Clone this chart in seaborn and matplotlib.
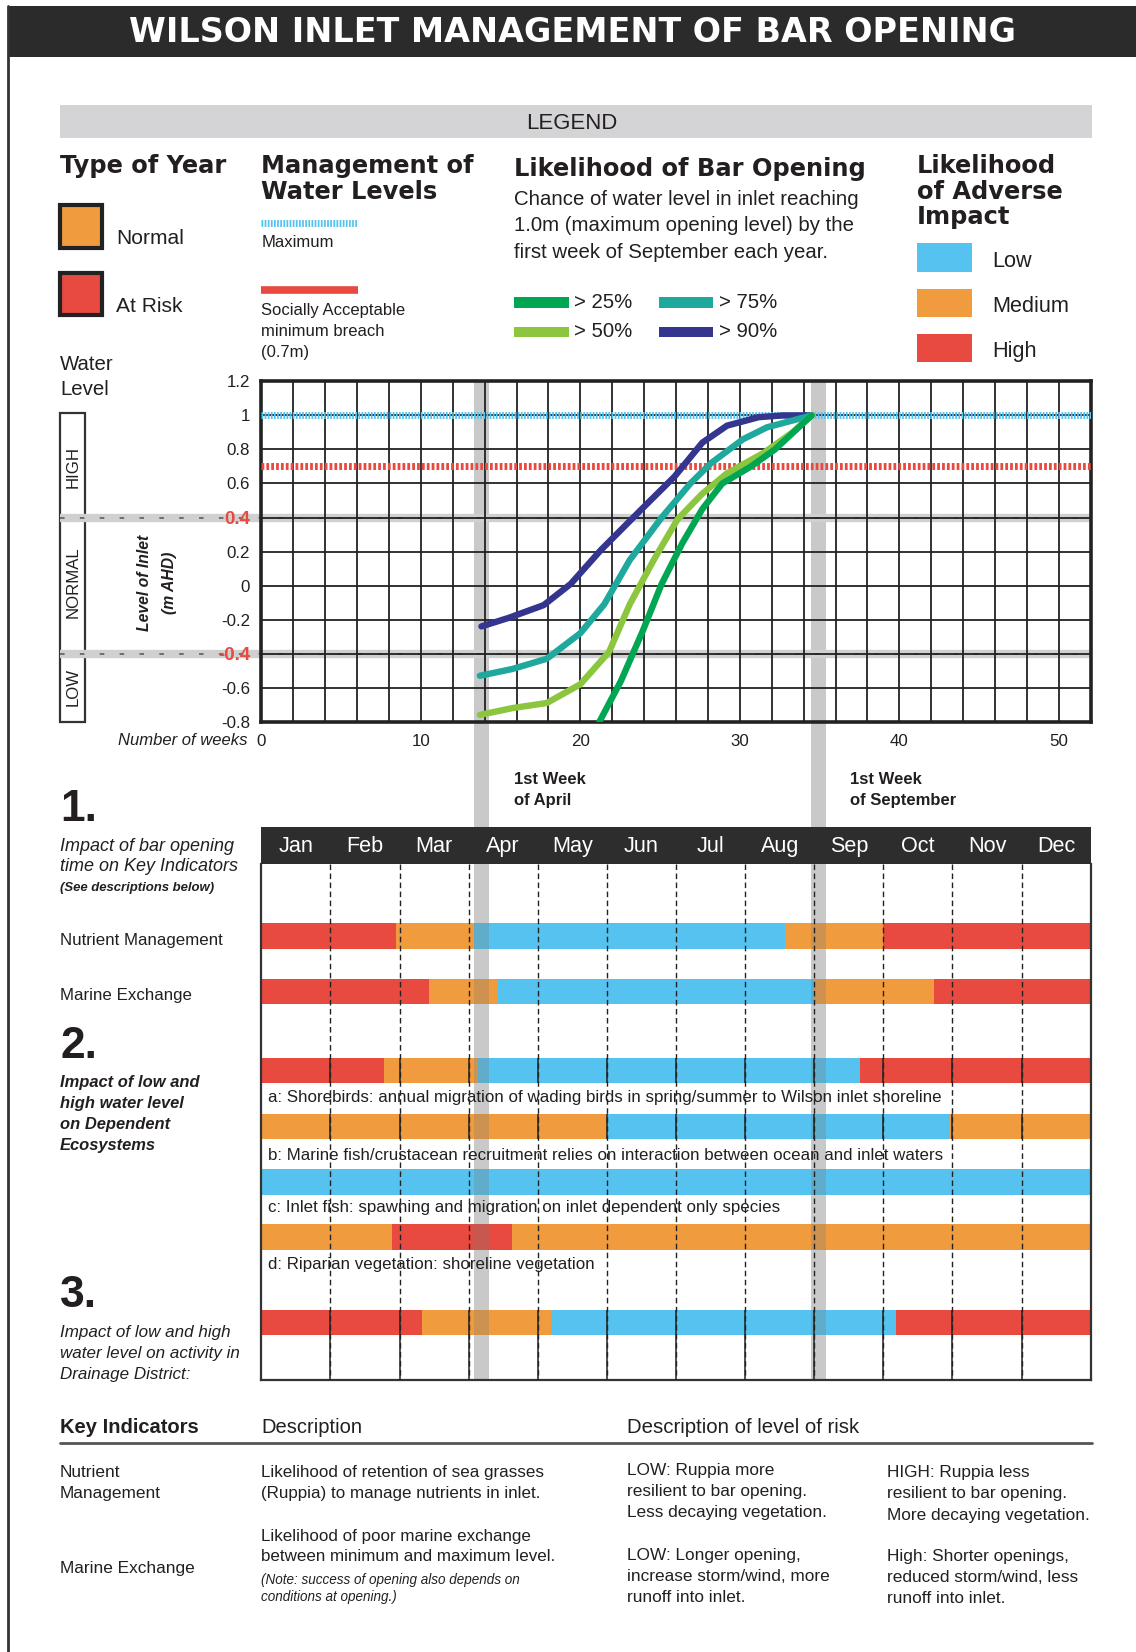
import numpy as np
import pandas as pd
import matplotlib
matplotlib.use("Agg")
import matplotlib.pyplot as plt
from matplotlib.patches import Rectangle
from matplotlib.lines import Line2D
from matplotlib import font_manager as fm
import seaborn as sns

# ------------------------------------------------------------------
# Water level curves: week of year vs. inlet level (m AHD)
# ------------------------------------------------------------------
weeks_25 = [21.2, 22.55, 23.9, 25.1, 26.4, 27.65, 28.9, 30.7, 32.2, 34.5]
level_25 = [-0.80, -0.56, -0.27, 0.01, 0.25, 0.45, 0.60, 0.70, 0.80, 1.00]

weeks_50 = [13.7, 15.75, 17.9, 20.0, 21.8, 23.1, 24.6, 26.1, 27.65, 29.2, 31.5, 33.3, 34.5]
level_50 = [-0.76, -0.72, -0.69, -0.58, -0.39, -0.11, 0.15, 0.39, 0.54, 0.66, 0.78, 0.90, 1.00]

weeks_75 = [13.7, 15.75, 17.9, 20.0, 21.5, 23.1, 25.1, 26.9, 28.2, 30.2, 31.7, 34.5]
level_75 = [-0.53, -0.49, -0.43, -0.28, -0.11, 0.15, 0.40, 0.60, 0.72, 0.86, 0.93, 1.00]

weeks_90 = [13.8, 15.5, 17.7, 19.4, 21.3, 23.8, 25.9, 27.65, 29.2, 31.2, 32.7, 34.5]
level_90 = [-0.24, -0.19, -0.115, 0.01, 0.21, 0.445, 0.64, 0.84, 0.94, 0.99, 1.00, 1.00]

chance_labels = ['> 25%', '> 50%', '> 75%', '> 90%']

max_level = 1.0          # maximum opening level
breach_level = 0.7       # socially acceptable minimum breach
zone_levels = [0.4, -0.4]

april_week = 13.8
september_week = 34.95

y_ticks = [1.2, 1.0, 0.8, 0.6, 0.4, 0.2, 0.0, -0.2, -0.4, -0.6, -0.8]
y_tick_labels = ['1.2', '1', '0.8', '0.6', '0.4', '0.2', '0', '-0.2', '-0.4', '-0.6', '-0.8']
x_ticks = [0, 10, 20, 30, 40, 50]

months = ['Jan', 'Feb', 'Mar', 'Apr', 'May', 'Jun',
          'Jul', 'Aug', 'Sep', 'Oct', 'Nov', 'Dec']

# ------------------------------------------------------------------
# Impact rows: month boundaries and impact level of each span
# ------------------------------------------------------------------
nutrient_edges = [0, 1.95, 3.08, 7.57, 9.0, 12]
nutrient_risk = ['High', 'Medium', 'Low', 'Medium', 'High']

marine_edges = [0, 2.43, 3.42, 7.98, 9.74, 12]
marine_risk = ['High', 'Medium', 'Low', 'Medium', 'High']

shorebird_edges = [0, 1.77, 3.14, 8.66, 12]
shorebird_risk = ['High', 'Medium', 'Low', 'High']

marine_fish_edges = [0, 5.0, 9.96, 12]
marine_fish_risk = ['Medium', 'Low', 'Medium']

inlet_fish_edges = [0, 12]
inlet_fish_risk = ['Low']

riparian_edges = [0, 1.89, 3.63, 12]
riparian_risk = ['Medium', 'High', 'Medium']

drainage_edges = [0, 2.32, 4.19, 9.19, 12]
drainage_risk = ['High', 'Medium', 'Low', 'High']

# ------------------------------------------------------------------
# Styling
# ------------------------------------------------------------------
sns.set_style('white')
names = {f.name for f in fm.fontManager.ttflist}
NARROW = 'Liberation Sans Narrow' if 'Liberation Sans Narrow' in names else 'Liberation Sans'
NS = 1.0 if NARROW == 'Liberation Sans Narrow' else 0.84
WIDE = 'Liberation Sans'
HEAVY = 'DejaVu Sans'
plt.rcParams['font.family'] = [NARROW, 'DejaVu Sans']
TXT = '#231f20'

RED = '#e84a3f'
ORANGE = '#f19b3f'
BLUE = '#55c2ef'
risk_colors = {'Low': BLUE, 'Medium': ORANGE, 'High': RED}
line_colors = {'> 25%': '#00a651', '> 50%': '#8cc63f',
               '> 75%': '#1fa99d', '> 90%': '#34358f'}
BAND = '#c9c9c9'

W, H = 1078.0, 1568.0


def fx(x):
    return x / W


def fy(y):
    return 1 - y / H


def box(l, t, r, b):
    return [fx(l), fy(b), (r - l) / W, (b - t) / H]


fig = plt.figure(figsize=(11.36, 16.52), dpi=100)
fig.patch.set_facecolor('white')


def text(x, y, s, size, family=None, **kw):
    kw.setdefault('va', 'center')
    kw.setdefault('color', TXT)
    fam = family or NARROW
    sz = size * NS if fam == NARROW else size
    return fig.text(fx(x), fy(y), s, fontsize=sz, family=fam, **kw)


def text_lines(x, y0, step, lines, size, **kw):
    for i, s in enumerate(lines):
        text(x, y0 + i * step, s, size, **kw)


def rect(l, t, r, b, **kw):
    fig.add_artist(Rectangle((fx(l), fy(b)), (r - l) / W, (b - t) / H,
                             transform=fig.transFigure, **kw))


def hline(x0, x1, y, **kw):
    fig.add_artist(Line2D([fx(x0), fx(x1)], [fy(y), fy(y)],
                          transform=fig.transFigure, **kw))


# ------------------------------------------------------------------
# Title bar and frame
# ------------------------------------------------------------------
rect(8, 6, 1078, 54, facecolor='#2b2b2b', edgecolor='none')
text(543, 31, 'WILSON INLET MANAGEMENT OF BAR OPENING', 24, family=HEAVY,
     weight='bold', color='white', ha='center')
fig.add_artist(Line2D([fx(8), fx(8)], [fy(6), fy(1568)],
                      transform=fig.transFigure, color='#333333', lw=2))

# ------------------------------------------------------------------
# Legend block
# ------------------------------------------------------------------
rect(57, 100, 1036, 131, facecolor='#d4d4d6', edgecolor='none')
text(543, 117, 'LEGEND', 19, family=WIDE, ha='center')

text(57, 158, 'Type of Year', 17.4, family=HEAVY, weight='bold')
rect(57, 195, 97, 235, facecolor=ORANGE, edgecolor='#222222', lw=3)
text(110, 226, 'Normal', 18)
rect(57, 259, 97, 299, facecolor=RED, edgecolor='#222222', lw=3)
text(110, 291, 'At Risk', 18)

text_lines(248, 158, 24, ['Management of', 'Water Levels'], 17.4, family=HEAVY, weight='bold')
hline(248, 340, 212, color=BLUE, lw=5, ls=(0, (0.25, 0.2)))
text(248, 230, 'Maximum', 14.3)
hline(248, 340, 275, color=RED, lw=5.5, solid_capstyle='butt')
text_lines(248, 295, 20, ['Socially Acceptable', 'minimum breach', '(0.7m)'], 14.3)

text(488, 160, 'Likelihood of Bar Opening', 17.4, family=HEAVY, weight='bold')
text_lines(488, 189, 25.5, ['Chance of water level in inlet reaching',
                            '1.0m (maximum opening level) by the',
                            'first week of September each year.'], 17.5)
swatches = [('> 25%', 488, 287), ('> 75%', 625, 287),
            ('> 50%', 488, 315), ('> 90%', 625, 315)]
for lab, sx, sy in swatches:
    rect(sx, sy - 5, sx + 52, sy + 5, facecolor=line_colors[lab], edgecolor='none')
    text(sx + 57, sy, lab, 17.5)

text_lines(870, 158, 24, ['Likelihood', 'of Adverse', 'Impact'], 17.4, family=HEAVY, weight='bold')
for lab, ty in [('Low', 248), ('Medium', 291), ('High', 334)]:
    rect(870, ty - 17, 922, ty + 10, facecolor=risk_colors[lab], edgecolor='none')
    text(942, ty, lab, 18.5)

# ------------------------------------------------------------------
# Vertical marker bands (1st week of April / September)
# ------------------------------------------------------------------
band_ax = fig.add_axes(box(248, 362, 1035, 1310))
band_ax.set_zorder(0)
band_ax.set_xlim(0, 52)
band_ax.axis('off')
for wk in (april_week, september_week):
    band_ax.axvspan(wk - 0.48, wk + 0.48, color=BAND, lw=0)

# ------------------------------------------------------------------
# Water level chart
# ------------------------------------------------------------------
df = pd.concat([
    pd.DataFrame({'week': weeks_25, 'level': level_25, 'chance': '> 25%'}),
    pd.DataFrame({'week': weeks_50, 'level': level_50, 'chance': '> 50%'}),
    pd.DataFrame({'week': weeks_75, 'level': level_75, 'chance': '> 75%'}),
    pd.DataFrame({'week': weeks_90, 'level': level_90, 'chance': '> 90%'}),
], ignore_index=True)

ax = fig.add_axes(box(248, 362, 1035, 685))
ax.set_zorder(2)
ax.set_facecolor('none')
sns.lineplot(data=df, x='week', y='level', hue='chance',
             hue_order=['> 90%', '> 75%', '> 50%', '> 25%'],
             palette=line_colors, estimator=None, sort=False,
             lw=4.6, legend=False, ax=ax, zorder=5,
             solid_capstyle='round')
ax.set_xlim(0, 52)
ax.set_ylim(-0.8, 1.2)
ax.set_xlabel('')
ax.set_ylabel('')
ax.set_xticks(x_ticks)
ax.set_xticks(np.arange(0, 53, 2), minor=True)
ax.set_yticks(y_ticks)
ax.set_yticklabels(y_tick_labels)
ax.set_axisbelow(False)
ax.grid(which='both', axis='x', color='#222222', lw=1.3)
ax.grid(which='major', axis='y', color='#222222', lw=1.3)
ax.tick_params(which='both', length=0)
ax.tick_params(axis='y', pad=8, labelsize=14.5 * NS, labelcolor=TXT)
ax.tick_params(axis='x', pad=9, labelsize=14.5 * NS, labelcolor=TXT)
for lbl in ax.get_yticklabels():
    if lbl.get_text() in ('0.4', '-0.4'):
        lbl.set_color(RED)
        lbl.set_fontweight('bold')
        lbl.set_fontsize(16 * NS)
for sp in ax.spines.values():
    sp.set_linewidth(2.6)
    sp.set_color('#222222')

ax.axhline(max_level, color=BLUE, lw=5, ls=(0, (0.25, 0.2)), zorder=3)
ax.axhline(breach_level, color=RED, lw=5, ls=(0, (0.4, 0.3)), zorder=3)

# grey zone boundaries, extending across the HIGH/NORMAL/LOW scale
left_ext = (57 - 248) / (1035 - 248)
for lv in zone_levels:
    ax.plot([left_ext, 1], [lv, lv], transform=ax.get_yaxis_transform(),
            clip_on=False, color='#d0d0d0', lw=6, solid_capstyle='butt', zorder=1)
    ax.plot([left_ext, 1], [lv, lv], transform=ax.get_yaxis_transform(),
            clip_on=False, color='#555555', lw=1.1, ls=(0, (3, 10)), zorder=1.1)

# water level scale on the left
rect(57, 392, 81, 685, facecolor='none', edgecolor='#333333', lw=1.6)
text(69, 443, 'HIGH', 14.4, rotation=90, ha='center')
text(69, 553, 'NORMAL', 14.4, rotation=90, ha='center')
text(69, 652, 'LOW', 14.4, rotation=90, ha='center')
text_lines(57, 346, 24, ['Water', 'Level'], 17.5)
text(137, 553, 'Level of Inlet', 13.5, rotation=90, ha='center', style='italic', weight='bold')
text(161, 553, '(m AHD)', 13.5, rotation=90, ha='center', style='italic', weight='bold')
text(235, 703, 'Number of weeks', 14.3, ha='right', style='italic')

text_lines(488, 740, 20, ['1st Week', 'of April'], 14.3, weight='bold')
text_lines(807, 740, 20, ['1st Week', 'of September'], 14.3, weight='bold')

# ------------------------------------------------------------------
# Impact bars by month
# ------------------------------------------------------------------
WPM = 52 / 12  # weeks per month
rows = [
    (nutrient_edges, nutrient_risk, 888.5),
    (marine_edges, marine_risk, 941),
    (shorebird_edges, shorebird_risk, 1016),
    (marine_fish_edges, marine_fish_risk, 1069),
    (inlet_fish_edges, inlet_fish_risk, 1122),
    (riparian_edges, riparian_risk, 1174),
    (drainage_edges, drainage_risk, 1255.5),
]
BAR_H = 24

bar_ax = fig.add_axes(box(248, 820, 1035, 1310))
bar_ax.set_zorder(2)
bar_ax.set_facecolor('none')
bar_ax.set_xlim(0, 52)
bar_ax.set_ylim(1310, 820)
for edges, risks, yc in rows:
    e = np.asarray(edges) * WPM
    bar_ax.barh([yc] * len(risks), np.diff(e), left=e[:-1], height=BAR_H,
                color=[risk_colors[r] for r in risks], lw=0, zorder=2)
    for wk in (april_week, september_week):
        bar_ax.barh(yc, 0.96, left=wk - 0.48, height=BAR_H,
                    color='#7a7a7a', alpha=0.3, lw=0, zorder=3)

month_bounds = np.arange(1, 12) * WPM
bar_ax.vlines(month_bounds, 820, 1310, color='#222222', lw=1,
              linestyles=(0, (4, 2.5)), zorder=4)
for yc in (1016, 1069):
    bar_ax.vlines(month_bounds, yc - BAR_H / 2, yc + BAR_H / 2,
                  color='#222222', lw=1.1, zorder=4.1)
bar_ax.vlines(month_bounds, 1255.5 - BAR_H / 2, 1310,
              color='#222222', lw=1.1, zorder=4.1)
bar_ax.set_xticks([])
bar_ax.set_yticks([])
bar_ax.spines['top'].set_visible(False)
for s in ('left', 'right', 'bottom'):
    bar_ax.spines[s].set_linewidth(1.6)
    bar_ax.spines[s].set_color('#333333')

hdr = fig.add_axes(box(248, 785, 1035, 820))
hdr.set_zorder(4)
hdr.set_facecolor('#2d2d2d')
hdr.set_xlim(0, 52)
hdr.set_ylim(0, 1)
hdr.set_xticks([])
hdr.set_yticks([])
for sp in hdr.spines.values():
    sp.set_visible(False)
for i, m in enumerate(months):
    hdr.text((i + 0.5) * WPM, 0.47, m, color='white', ha='center', va='center',
             fontsize=18.5 * NS, family=NARROW)

# row annotations
text(254, 1042, 'a: Shorebirds: annual migration of wading birds in spring/summer to Wilson inlet shoreline', 14.5)
text(254, 1097, 'b: Marine fish/crustacean recruitment relies on interaction between ocean and inlet waters', 14.5)
text(254, 1146, 'c: Inlet fish: spawning and migration on inlet dependent only species', 14.5)
text(254, 1200, 'd: Riparian vegetation: shoreline vegetation', 14.5)

# section labels
text(57, 768, '1.', 38, family=WIDE, weight='bold')
text_lines(57, 803, 19.5, ['Impact of bar opening', 'time on Key Indicators'], 15.4, style='italic')
text(57, 843, '(See descriptions below)', 11.2, style='italic', weight='bold')
text(57, 893, 'Nutrient Management', 14.5)
text(57, 945, 'Marine Exchange', 14.5)

text(57, 993, '2.', 38, family=WIDE, weight='bold')
text_lines(57, 1027, 20, ['Impact of low and', 'high water level', 'on Dependent', 'Ecosystems'],
           14.2, style='italic', weight='bold')

text(57, 1230, '3.', 38, family=WIDE, weight='bold')
text_lines(57, 1265, 20, ['Impact of low and high', 'water level on activity in', 'Drainage District:'],
           14.6, style='italic')

# ------------------------------------------------------------------
# Key indicator descriptions
# ------------------------------------------------------------------
text(57, 1355, 'Key Indicators', 17.3, weight='bold')
text(248, 1355, 'Description', 17.3)
text(595, 1355, 'Description of level of risk', 17.5)
hline(57, 1036, 1370, color='#555555', lw=2)

text_lines(57, 1398, 20, ['Nutrient', 'Management'], 14.8)
text_lines(248, 1398, 20, ['Likelihood of retention of sea grasses',
                           '(Ruppia) to manage nutrients in inlet.'], 14.6)
text_lines(595, 1396, 20, ['LOW: Ruppia more', 'resilient to bar opening.',
                           'Less decaying vegetation.'], 14.8)
text_lines(842, 1398, 20, ['HIGH: Ruppia less', 'resilient to bar opening.',
                           'More decaying vegetation.'], 14.8)

text(57, 1489, 'Marine Exchange', 14.8)
text_lines(248, 1458, 19.5, ['Likelihood of poor marine exchange',
                             'between minimum and maximum level.'], 14.6)
text_lines(248, 1500, 16, ['(Note: success of opening also depends on',
                           'conditions at opening.)'], 11.6, style='italic')
text_lines(595, 1476, 20, ['LOW: Longer opening,', 'increase storm/wind, more',
                           'runoff into inlet.'], 14.8)
text_lines(842, 1477, 20, ['High: Shorter openings,', 'reduced storm/wind, less',
                           'runoff into inlet.'], 14.8)

fig.savefig('out.png', dpi=100, facecolor='white')
